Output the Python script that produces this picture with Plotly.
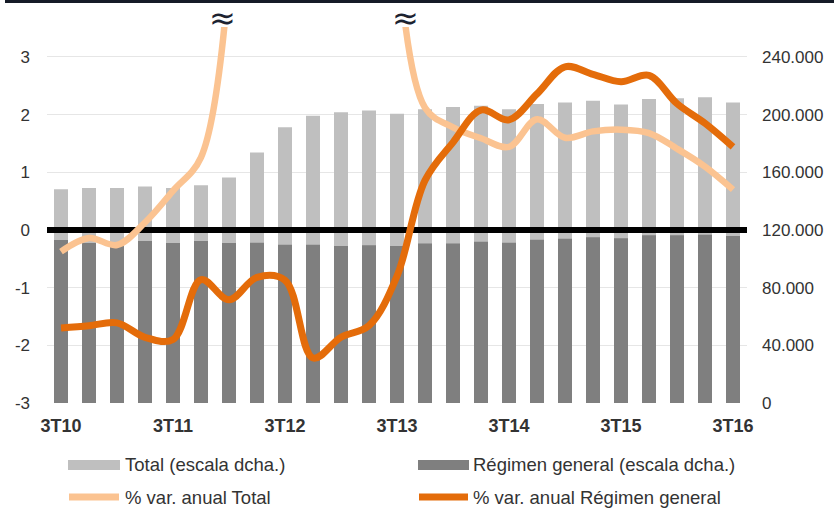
import plotly.graph_objects as go

# ---------------- data ----------------
quarters = ["3T10", "4T10", "1T11", "2T11", "3T11", "4T11", "1T12", "2T12", "3T12",
            "4T12", "1T13", "2T13", "3T13", "4T13", "1T14", "2T14", "3T14", "4T14",
            "1T15", "2T15", "3T15", "4T15", "1T16", "2T16", "3T16"]
tick_labels = ["3T10", "3T11", "3T12", "3T13", "3T14", "3T15", "3T16"]

total = [148300, 149200, 149200, 150200, 149200, 151100, 156400, 173700, 191200,
         199300, 201600, 202800, 200700, 203700, 205300, 206200, 203700, 207300,
         208500, 209700, 207100, 210800, 211300, 212000, 208500]
regimen = [113000, 111000, 110000, 112300, 110900, 112300, 110900, 111100, 109800,
           109800, 108900, 109500, 108900, 110700, 110700, 111800, 111100, 113200,
           113900, 114900, 114200, 116300, 116300, 116700, 115800]
# annual % change (left axis); quarters where the Total line runs off the chart are unknown
var_total = [-0.375, -0.14, -0.26, 0.13, 0.68, 1.26, 4.4, None, None, None, None, None,
             5.0, 2.12, 1.78, 1.59, 1.44, 1.92, 1.60, 1.71, 1.74, 1.68, 1.41, 1.10, 0.70]
var_regimen = [-1.70, -1.66, -1.61, -1.86, -1.90, -0.86, -1.21, -0.82, -0.87, -2.22,
               -1.86, -1.66, -0.80, 0.86, 1.52, 2.08, 1.91, 2.36, 2.83, 2.70, 2.57,
               2.68, 2.19, 1.85, 1.44]

left_ticks = [-3, -2, -1, 0, 1, 2, 3]
left_tick_text = ["-3", "-2", "-1", "0", "1", "2", "3"]
right_ticks = [0, 40000, 80000, 120000, 160000, 200000, 240000]

legend_names = ["Total (escala dcha.)", "Régimen general (escala dcha.)",
                "% var. anual Total", "% var. anual Régimen general"]

# ---------------- styling ----------------
W, H = 834, 508
ML, MR, MT, MB = 47, 87, 27, 105
PW, PH = W - ML - MR, H - MT - MB
FONT = "Liberation Sans, Arial, sans-serif"
C_TOTAL = "#bfbfbf"
C_REG = "#7f7f7f"
C_VT = "#fbc391"
C_VR = "#e46c0a"
TXT = "#333333"

x = list(range(len(quarters)))
tickvals = [quarters.index(t) for t in tick_labels]

left_top = 3 + 30 / 57.72
left_range = [-3, left_top]
right_range = [0, 40000 * (left_top + 3)]

fig = go.Figure()
fig.add_trace(go.Bar(x=x, y=total, name=legend_names[0], marker_color=C_TOTAL,
                     marker_line_width=0, width=0.5, yaxis="y", showlegend=False))
fig.add_trace(go.Bar(x=x, y=regimen, name=legend_names[1], marker_color=C_REG,
                     marker_line_width=0, width=0.5, yaxis="y", showlegend=False))
# zero reference line of the left axis (drawn above bars, below the lines)
fig.add_trace(go.Scatter(x=[-0.5, len(quarters) - 0.5], y=[0, 0], mode="lines",
                         line=dict(color="#000000", width=6), yaxis="y2",
                         hoverinfo="skip", showlegend=False))
fig.add_trace(go.Scatter(x=x, y=var_total, name=legend_names[2], mode="lines",
                         line=dict(color=C_VT, width=6.5, shape="spline", smoothing=1),
                         yaxis="y2", showlegend=False, connectgaps=False))
fig.add_trace(go.Scatter(x=x, y=var_regimen, name=legend_names[3], mode="lines",
                         line=dict(color=C_VR, width=7, shape="spline", smoothing=1),
                         yaxis="y2", showlegend=False))


def px_x(p):
    return (p - ML) / PW


def px_y(p):
    return (H - MB - p) / PH


shapes = [
    # dark band at the very top
    dict(type="rect", xref="paper", yref="paper", x0=px_x(5), x1=px_x(834),
         y0=px_y(3), y1=px_y(0), fillcolor="#151b27", line_width=0, layer="above"),
    # legend swatches
    dict(type="rect", xref="paper", yref="paper", x0=px_x(68), x1=px_x(120),
         y0=px_y(470), y1=px_y(460), fillcolor=C_TOTAL, line_width=0),
    dict(type="rect", xref="paper", yref="paper", x0=px_x(418), x1=px_x(469),
         y0=px_y(470), y1=px_y(460), fillcolor=C_REG, line_width=0),
    dict(type="line", xref="paper", yref="paper", x0=px_x(69), x1=px_x(119),
         y0=px_y(497), y1=px_y(497), line=dict(color=C_VT, width=7)),
    dict(type="line", xref="paper", yref="paper", x0=px_x(419), x1=px_x(468),
         y0=px_y(497), y1=px_y(497), line=dict(color=C_VR, width=7)),
]

annotations = []
for (tx, ty), name in zip([(123, 465), (471, 465), (123, 497), (471, 497)], legend_names):
    annotations.append(dict(xref="paper", yref="paper", x=px_x(tx), y=px_y(ty),
                            xanchor="left", yanchor="middle", text=name, showarrow=False,
                            font=dict(family=FONT, size=18.5, color=TXT)))
for bx in (222, 405):
    annotations.append(dict(xref="paper", yref="paper", x=px_x(bx), y=px_y(18),
                            xanchor="center", yanchor="middle", text="≈", showarrow=False,
                            font=dict(family="DejaVu Sans, sans-serif", size=32,
                                      color="#1c2230")))

fig.update_layout(
    width=W, height=H,
    margin=dict(l=ML, r=MR, t=MT, b=MB, pad=0),
    paper_bgcolor="white", plot_bgcolor="white",
    barmode="overlay", bargap=0.5,
    separators=",.",
    showlegend=False,
    font=dict(family=FONT, size=17, color=TXT),
    xaxis=dict(range=[-0.5, len(quarters) - 0.5], tickmode="array", tickvals=tickvals,
               ticktext=tick_labels, showgrid=False, zeroline=False, showline=False,
               ticks="", ticklabelstandoff=10,
               tickfont=dict(family=FONT, size=18, color=TXT, weight="bold")),
    yaxis=dict(side="right", range=right_range, tickmode="array", tickvals=right_ticks,
               tickformat=",.0f", showgrid=True, gridcolor="#e6e6e6", gridwidth=1,
               zeroline=False, showline=False, ticks="", ticklabelstandoff=14,
               tickfont=dict(family=FONT, size=17, color=TXT)),
    yaxis2=dict(side="left", overlaying="y", range=left_range, tickmode="array",
                tickvals=left_ticks, ticktext=left_tick_text, showgrid=False,
                zeroline=False, showline=False, ticks="", ticklabelstandoff=16,
                tickfont=dict(family=FONT, size=17, color=TXT)),
    shapes=shapes,
    annotations=annotations,
)

fig.write_html("out.html",
               config={"displayModeBar": False},
               post_script="document.body.style.margin='0';"
                           "document.body.style.overflow='hidden';")
